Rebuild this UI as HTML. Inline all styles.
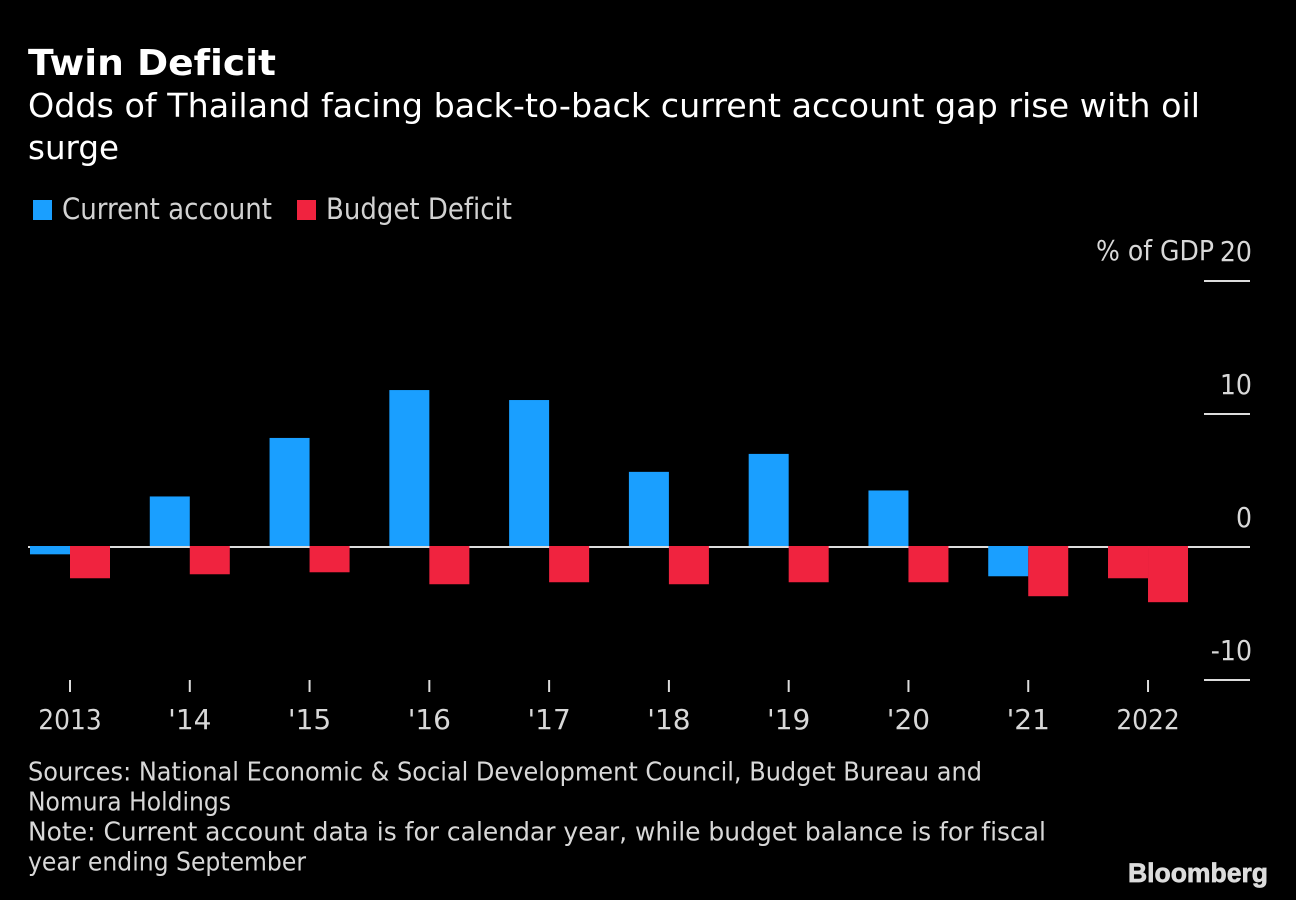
<!DOCTYPE html>
<html lang="en">
<head>
<meta charset="utf-8">
<title>Twin Deficit</title>
<style>
html,body{margin:0;padding:0;background:#000;width:1296px;height:900px;overflow:hidden}
svg{display:block}
text{font-family:"DejaVu Sans","Liberation Sans",sans-serif;font-variant-ligatures:none}
.sub{font-size:33px;fill:#fff}
.leg{font-size:29px;fill:#d2d2d2}
.note{font-size:25.5px;fill:#d8d8d8}
.axis{font-size:28px;fill:#d8d8d8}
</style>
</head>
<body>
<svg id="chart" xmlns="http://www.w3.org/2000/svg" width="1296" height="900" viewBox="0 0 1296 900">
<rect x="0" y="0" width="1296" height="900" fill="#000"/>
<text x="28" y="75" font-size="36" font-weight="700" fill="#fff" textLength="248" lengthAdjust="spacingAndGlyphs">Twin Deficit</text>
<text class="sub" x="28" y="117" textLength="1172" lengthAdjust="spacingAndGlyphs">Odds of Thailand facing back-to-back current account gap rise with oil</text>
<text class="sub" x="28" y="159" textLength="91" lengthAdjust="spacingAndGlyphs">surge</text>
<rect x="33" y="200" width="19" height="20" fill="#1a9fff"/>
<text class="leg" x="62" y="219" textLength="210" lengthAdjust="spacingAndGlyphs">Current account</text>
<rect x="297" y="200" width="19" height="20" fill="#f0233f"/>
<text class="leg" x="326" y="219" textLength="186" lengthAdjust="spacingAndGlyphs">Budget Deficit</text>
<text class="axis" x="1214" y="260" text-anchor="end" textLength="118" lengthAdjust="spacingAndGlyphs">% of GDP</text>
<g id="marks"></g>
<text class="note" x="28" y="780.5" textLength="954" lengthAdjust="spacingAndGlyphs">Sources: National Economic &amp; Social Development Council, Budget Bureau and</text>
<text class="note" x="28" y="810.5" textLength="203" lengthAdjust="spacingAndGlyphs">Nomura Holdings</text>
<text class="note" x="28" y="840.5" textLength="1018" lengthAdjust="spacingAndGlyphs">Note: Current account data is for calendar year, while budget balance is for fiscal</text>
<text class="note" x="28" y="870.5" textLength="278" lengthAdjust="spacingAndGlyphs">year ending September</text>
<text x="1128" y="882" style="font-family:'Liberation Sans',sans-serif" font-size="27" font-weight="700" fill="#dcdcdc" stroke="#dcdcdc" stroke-width="0.7" textLength="140" lengthAdjust="spacingAndGlyphs">Bloomberg</text>
</svg>
<script>
var categories = ["2013", "'14", "'15", "'16", "'17", "'18", "'19", "'20", "'21", "2022"];
var currentAccount = [-0.55, 3.8, 8.2, 11.8, 11.05, 5.65, 7.0, 4.25, -2.2, -2.35];
var budgetDeficit = [-2.35, -2.05, -1.9, -2.8, -2.65, -2.8, -2.65, -2.65, -3.7, -4.15];
var yTicks = [20, 10, 0, -10];

function yScale(v) { return 547 - v * 13.3; }
function xScale(i) { return 70 + i * 119.78; }

var NS = 'http://www.w3.org/2000/svg';
var marks = document.getElementById('marks');

function mk(tag, attrs) {
  var el = document.createElementNS(NS, tag);
  for (var k in attrs) { el.setAttribute(k, attrs[k]); }
  marks.appendChild(el);
  return el;
}

function squeeze(el, factor) {
  el.setAttribute('textLength', (el.getComputedTextLength() * factor).toFixed(1));
  el.setAttribute('lengthAdjust', 'spacingAndGlyphs');
}

function bar(i, v, side, color) {
  var y0 = yScale(0) - 1;
  var y1 = yScale(v);
  var el = mk('rect', {
    x: xScale(i) + (side < 0 ? -40 : 0),
    y: Math.min(y0, y1),
    width: 40,
    height: Math.abs(y1 - y0),
    fill: color
  });
  return el;
}

yTicks.forEach(function (t) {
  var y = Math.round(yScale(t));
  var line = mk('line', {
    x1: t === 0 ? 28 : 1204,
    x2: 1250,
    y1: y,
    y2: y,
    stroke: '#dcdcdc',
    'stroke-width': 2
  });
  
  
  var label = mk('text', { x: 1252, y: y - 20, 'text-anchor': 'end', 'class': 'axis' });
  label.textContent = String(t);
  
  
  squeeze(label, 0.9);
});

categories.forEach(function (c, i) {
  var x = xScale(i);
  // The final year's current-account bar is drawn in the forecast (red) colour.
  var caColor = i === categories.length - 1 ? '#f0233f' : '#1a9fff';
  var caBar = bar(i, currentAccount[i], -1, caColor);
  
  
  var bdBar = bar(i, budgetDeficit[i], 1, '#f0233f');
  
  
  var tick = mk('line', { x1: x, x2: x, y1: 680, y2: 692, stroke: '#dcdcdc', 'stroke-width': 2 });
  
  
  var label = mk('text', { x: x, y: 729, 'text-anchor': 'middle', 'class': 'axis' });
  label.textContent = c;
  
  
  squeeze(label, c.charAt(0) === "'" ? 1.0 : 0.89);
});
</script>
</body>
</html>
